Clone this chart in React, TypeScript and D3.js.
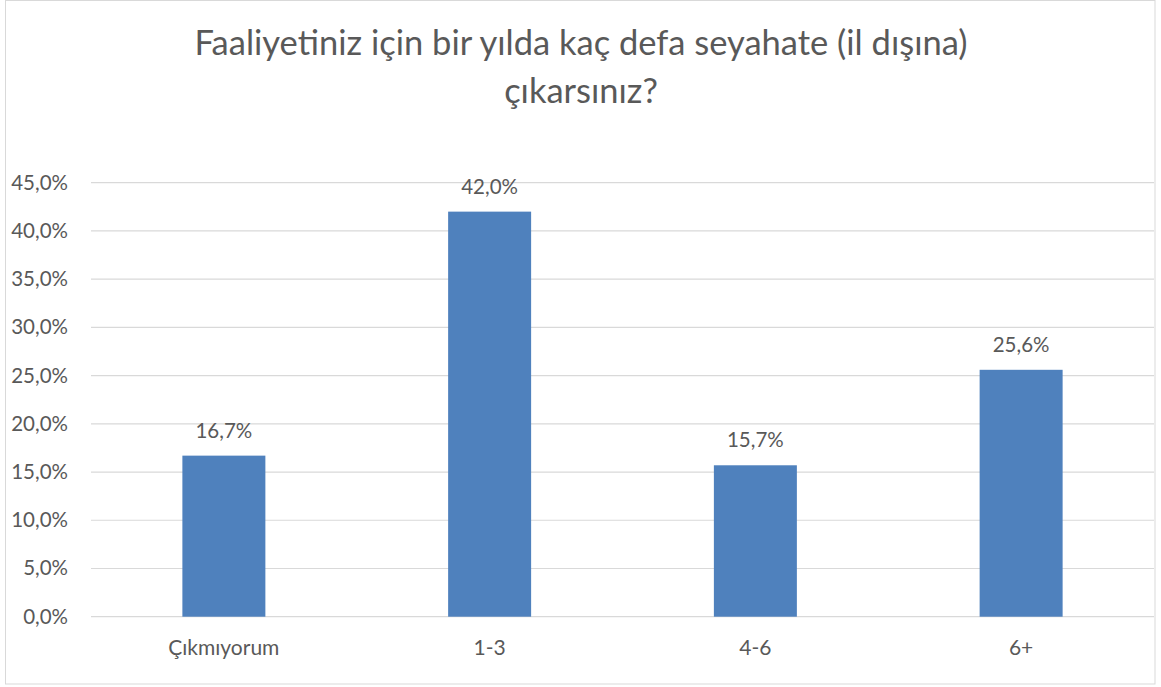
import React from "react";
import * as d3 from "d3";

const categories = ["Çıkmıyorum", "1-3", "4-6", "6+"];
const values = [0.167, 0.42, 0.157, 0.256];
const valueLabels = ["16,7%", "42,0%", "15,7%", "25,6%"];
const yTicks = [0, 0.05, 0.1, 0.15, 0.2, 0.25, 0.3, 0.35, 0.4, 0.45];
const titleLines = ["Faaliyetiniz için bir yılda kaç defa seyahate (il dışına)", "çıkarsınız?"];

const W = 1161;
const H = 687;
const FONT = "Lato, 'Open Sans', sans-serif";
const TEXT = "#595959";
const GRID = "#d9d9d9";
const BAR = "#4f81bd";

const fmt = (v: number) => (v * 100).toFixed(1).replace(".", ",") + "%";

export default function App() {
  const left = 91;
  const right = 1154;
  const x = d3
    .scaleBand<string>()
    .domain(categories)
    .range([left, right])
    .paddingInner(0.6877)
    .paddingOuter(0.6877 / 2);
  const y = d3.scaleLinear().domain([0, 0.45]).range([616.7, 182.7]);

  return (
    <svg
      width={W}
      height={H}
      style={{ position: "absolute", left: 0, top: 0, background: "#fff" }}
      fontFamily={FONT}
    >
      <rect x={5.5} y={0.5} width={1149.5} height={683.5} fill="#fff" stroke={GRID} strokeWidth={1} />
      {titleLines.map((t, i) => (
        <text key={i} x={581} y={55 + i * 48} textAnchor="middle" fontSize={34.5} fill={TEXT}>
          {t}
        </text>
      ))}
      {yTicks.map((t) => (
        <g key={t}>
          <line x1={left} x2={right} y1={y(t)} y2={y(t)} stroke={GRID} strokeWidth={1.2} />
          <text x={68} y={y(t) + 7} textAnchor="end" fontSize={20.5} fill={TEXT}>
            {fmt(t)}
          </text>
        </g>
      ))}
      {categories.map((c, i) => (
        <g key={c}>
          <rect x={x(c)} y={y(values[i])} width={x.bandwidth()} height={y(0) - y(values[i])} fill={BAR} />
          <text x={(x(c) as number) + x.bandwidth() / 2} y={y(values[i]) - 18} textAnchor="middle" fontSize={20.5} fill={TEXT}>
            {valueLabels[i]}
          </text>
          <text x={(x(c) as number) + x.bandwidth() / 2} y={655} textAnchor="middle" fontSize={21} fill={TEXT}>
            {c}
          </text>
        </g>
      ))}
    </svg>
  );
}
